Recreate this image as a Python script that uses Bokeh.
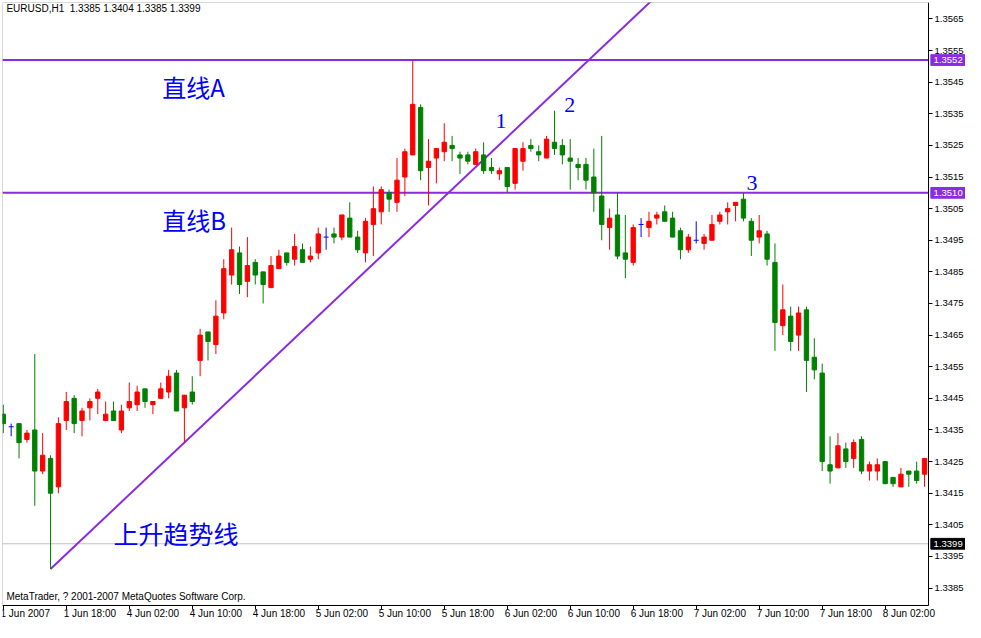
import math
from bokeh.plotting import figure
from bokeh.models import (ColumnDataSource, LinearAxis, FixedTicker, BoxAnnotation,
                          PrintfTickFormatter, Range1d, Grid)
from bokeh.core.properties import value
from bokeh.embed import file_html
from bokeh.resources import INLINE

# ---------------- data (EURUSD H1) ----------------
opens = [1.3440, 1.3436, 1.3437, 1.3432, 1.3435, 1.3422, 1.3426, 1.3417, 1.3438, 1.3445,
         1.3438, 1.3442, 1.3445, 1.3438, 1.3441, 1.3435, 1.3442, 1.3443, 1.3448, 1.3443,
         1.3445, 1.3447, 1.3453, 1.3442, 1.3447, 1.3457, 1.3466, 1.3462, 1.3472, 1.3484,
         1.3491, 1.3482, 1.3488, 1.3485, 1.3480, 1.3486, 1.3491, 1.3489, 1.3492, 1.3489,
         1.3491, 1.3496, 1.3497, 1.3496, 1.3502, 1.3496, 1.3491, 1.3500, 1.3504, 1.3510,
         1.3507, 1.3515, 1.3522, 1.3537, 1.3518, 1.3521, 1.3523, 1.3525, 1.3522, 1.3522,
         1.3519, 1.3522, 1.3518, 1.3516, 1.3518, 1.3513, 1.3520, 1.3525, 1.3523, 1.3521,
         1.3526, 1.3525, 1.3521, 1.3519, 1.3519, 1.3515, 1.3509, 1.3499, 1.3503, 1.3491,
         1.3488, 1.3500, 1.3499, 1.3502, 1.3504, 1.3502, 1.3498, 1.3492, 1.3495, 1.3494,
         1.3495, 1.3501, 1.3504, 1.3506, 1.3508, 1.3501, 1.3496, 1.3497, 1.3488, 1.3468,
         1.3471, 1.3465, 1.3473, 1.3458, 1.3453, 1.3424, 1.3423, 1.3429, 1.3426, 1.3432,
         1.3422, 1.3422, 1.3425, 1.3420, 1.3417, 1.3422, 1.3422, 1.3421]
highs = [1.3443, 1.3437, 1.3437, 1.3435, 1.3459, 1.3434, 1.3427, 1.3439, 1.3447, 1.3446,
         1.3442, 1.3445, 1.3448, 1.3444, 1.3444, 1.3443, 1.3450, 1.3449, 1.3448, 1.3444,
         1.3450, 1.3454, 1.3454, 1.3446, 1.3452, 1.3467, 1.3466, 1.3476, 1.3489, 1.3499,
         1.3493, 1.3496, 1.3489, 1.3485, 1.3490, 1.3492, 1.3491, 1.3497, 1.3494, 1.3493,
         1.3499, 1.3499, 1.3499, 1.3503, 1.3507, 1.3498, 1.3502, 1.3512, 1.3512, 1.3511,
         1.3521, 1.3524, 1.3552, 1.3538, 1.3527, 1.3524, 1.3532, 1.3528, 1.3523, 1.3523,
         1.3524, 1.3526, 1.3521, 1.3518, 1.3518, 1.3524, 1.3526, 1.3527, 1.3525, 1.3528,
         1.3536, 1.3527, 1.3527, 1.3521, 1.3521, 1.3524, 1.3528, 1.3505, 1.3510, 1.3503,
         1.3500, 1.3502, 1.3504, 1.3504, 1.3506, 1.3504, 1.3499, 1.3497, 1.3501, 1.3497,
         1.3503, 1.3504, 1.3507, 1.3507, 1.3510, 1.3502, 1.3503, 1.3498, 1.3494, 1.3481,
         1.3474, 1.3474, 1.3474, 1.3464, 1.3456, 1.3433, 1.3434, 1.3431, 1.3432, 1.3433,
         1.3425, 1.3426, 1.3425, 1.3420, 1.3423, 1.3422, 1.3425, 1.3426]
lows = [1.3434, 1.3433, 1.3426, 1.3431, 1.3411, 1.3421, 1.3391, 1.3415, 1.3435, 1.3434,
        1.3433, 1.3438, 1.3440, 1.3438, 1.3438, 1.3434, 1.3441, 1.3441, 1.3442, 1.3440,
        1.3445, 1.3445, 1.3441, 1.3431, 1.3443, 1.3452, 1.3457, 1.3459, 1.3470, 1.3481,
        1.3478, 1.3477, 1.3481, 1.3475, 1.3480, 1.3486, 1.3487, 1.3487, 1.3488, 1.3488,
        1.3489, 1.3492, 1.3494, 1.3495, 1.3496, 1.3491, 1.3488, 1.3490, 1.3500, 1.3504,
        1.3504, 1.3509, 1.3522, 1.3514, 1.3506, 1.3513, 1.3520, 1.3520, 1.3516, 1.3519,
        1.3519, 1.3516, 1.3516, 1.3514, 1.3510, 1.3511, 1.3517, 1.3523, 1.3520, 1.3521,
        1.3522, 1.3519, 1.3511, 1.3514, 1.3511, 1.3504, 1.3495, 1.3492, 1.3489, 1.3483,
        1.3487, 1.3496, 1.3496, 1.3500, 1.3501, 1.3496, 1.3489, 1.3491, 1.3494, 1.3492,
        1.3495, 1.3500, 1.3500, 1.3501, 1.3501, 1.3490, 1.3494, 1.3487, 1.3460, 1.3465,
        1.3460, 1.3460, 1.3447, 1.3451, 1.3422, 1.3418, 1.3423, 1.3423, 1.3423, 1.3421,
        1.3419, 1.3419, 1.3418, 1.3417, 1.3417, 1.3417, 1.3418, 1.3417]
closes = [1.3437, 1.3436, 1.3431, 1.3434, 1.3422, 1.3427, 1.3415, 1.3437, 1.3444, 1.3437,
          1.3441, 1.3444, 1.3447, 1.3440, 1.3438, 1.3441, 1.3444, 1.3447, 1.3444, 1.3444,
          1.3448, 1.3452, 1.3441, 1.3446, 1.3444, 1.3465, 1.3463, 1.3471, 1.3486, 1.3492,
          1.3481, 1.3487, 1.3484, 1.3481, 1.3487, 1.3490, 1.3488, 1.3493, 1.3488, 1.3490,
          1.3497, 1.3496, 1.3496, 1.3503, 1.3496, 1.3492, 1.3501, 1.3505, 1.3511, 1.3508,
          1.3514, 1.3523, 1.3538, 1.3517, 1.3520, 1.3524, 1.3526, 1.3524, 1.3521, 1.3520,
          1.3523, 1.3517, 1.3517, 1.3517, 1.3512, 1.3524, 1.3524, 1.3524, 1.3522, 1.3527,
          1.3524, 1.3522, 1.3520, 1.3518, 1.3514, 1.3510, 1.3500, 1.3502, 1.3490, 1.3489,
          1.3499, 1.3500, 1.3501, 1.3503, 1.3501, 1.3496, 1.3492, 1.3496, 1.3495, 1.3496,
          1.3500, 1.3503, 1.3505, 1.3507, 1.3502, 1.3495, 1.3498, 1.3489, 1.3469, 1.3473,
          1.3463, 1.3472, 1.3457, 1.3454, 1.3425, 1.3422, 1.3430, 1.3425, 1.3431, 1.3422,
          1.3424, 1.3424, 1.3418, 1.3418, 1.3421, 1.3421, 1.3419, 1.3426]

tick_bars = [0, 8, 16, 24, 32, 40, 48, 56, 64, 72, 80, 88, 96, 104, 112]
tick_labels = ["1 Jun 2007", "1 Jun 18:00", "4 Jun 02:00", "4 Jun 10:00", "4 Jun 18:00",
               "5 Jun 02:00", "5 Jun 10:00", "5 Jun 18:00", "6 Jun 02:00", "6 Jun 10:00",
               "6 Jun 18:00", "7 Jun 02:00", "7 Jun 10:00", "7 Jun 18:00", "8 Jun 02:00"]
price_ticks = [round(1.3385 + 0.001 * k, 4) for k in range(19)]

level_a = 1.3552
level_b = 1.3510
bid_price = 1.3399
trend_x = [6, 82]
trend_y = [1.3391, 1.3570]

header = "EURUSD,H1\u00a0\u00a01.3385 1.3404 1.3385 1.3399"
footer = "MetaTrader, ? 2001-2007 MetaQuotes Software Corp."

note_cn = ["直线A", "直线B", "上升趋势线"]
note_cn_x = [20.2, 20.2, 14.0]
note_cn_y = [1.35437, 1.35017, 1.34025]
note_num = ["1", "2", "3"]
note_num_x = [62.5, 71.25, 94.4]
note_num_y = [1.35326, 1.35378, 1.35130]

# ---------------- colours ----------------
UP = "#FF0000"
DOWN = "#008000"
DOJI = "#0000FF"
LINE = "#8A2BE2"

n = len(opens)
xs = list(range(n))
colors = [UP if c > o else (DOWN if c < o else DOJI) for o, c in zip(opens, closes)]
src = ColumnDataSource(dict(x=xs, low=lows, high=highs, color=colors))
body_idx = [i for i in xs if opens[i] != closes[i]]
body_src = ColumnDataSource(dict(
    x=body_idx,
    top=[max(opens[i], closes[i]) for i in body_idx],
    bottom=[min(opens[i], closes[i]) for i in body_idx],
    color=[colors[i] for i in body_idx]))
doji_idx = [i for i in xs if opens[i] == closes[i]]
doji_src = ColumnDataSource(dict(
    x0=[i - 0.32 for i in doji_idx], x1=[i + 0.32 for i in doji_idx],
    y=[opens[i] for i in doji_idx]))

# chart area (bars) and full frame (incl. price scale and time labels)
x_start, x_chart_end, x_frame_end = -0.1, 117.5, 122.2
y_chart_bottom, y_top, y_frame_bottom = 1.33795, 1.35702, 1.33741

p = figure(width=965, height=622,
           x_range=Range1d(x_start, x_frame_end), y_range=Range1d(y_frame_bottom, y_top),
           x_axis_location=None, y_axis_location=None,
           toolbar_location=None, output_backend="svg",
           min_border_left=2, min_border_top=2, min_border_right=0, min_border_bottom=0,
           outline_line_color=None,
           background_fill_color="white", border_fill_color="white")
for r in list(p.center):
    if isinstance(r, Grid):
        r.visible = False

# chart box
p.add_layout(BoxAnnotation(left=x_start, right=x_chart_end, bottom=y_chart_bottom, top=y_top,
                           fill_alpha=0, line_color="black", line_width=1))

# price axis (right side of the chart box)
yax = LinearAxis(ticker=FixedTicker(ticks=price_ticks), fixed_location=x_chart_end,
                 bounds=(y_chart_bottom, y_top),
                 formatter=PrintfTickFormatter(format="%.4f"),
                 axis_line_color="black", major_tick_line_color="black",
                 major_tick_out=4, major_tick_in=0, minor_tick_line_color=None,
                 major_label_standoff=2, major_label_text_font="Liberation Sans",
                 major_label_text_font_size="9.5px", major_label_text_color="black")
p.add_layout(yax, "right")

# time axis: tick marks
xax1 = LinearAxis(ticker=FixedTicker(ticks=tick_bars), fixed_location=y_chart_bottom,
                  bounds=(x_start, x_chart_end),
                  major_label_overrides={t: "" for t in tick_bars},
                  axis_line_color="black", major_tick_line_color="black",
                  major_tick_out=4, major_tick_in=0, minor_tick_line_color=None,
                  major_label_standoff=0, major_label_text_font_size="1px")
p.add_layout(xax1, "below")
# time axis: labels, left-aligned after each tick
label_pos = [t + (2.75 if k == 0 else 3.0) for k, t in enumerate(tick_bars)]
xax2 = LinearAxis(ticker=FixedTicker(ticks=label_pos), fixed_location=y_chart_bottom,
                  major_label_overrides=dict(zip(label_pos, tick_labels)),
                  axis_line_color=None, major_tick_line_color=None,
                  major_tick_out=0, major_tick_in=0, minor_tick_line_color=None,
                  major_label_standoff=3, major_label_text_font="Liberation Sans",
                  major_label_text_font_size="10px", major_label_text_color="black")
p.add_layout(xax2, "below")

# horizontal lines across the chart area
p.segment(x0=[x_start], x1=[x_chart_end], y0=[bid_price], y1=[bid_price],
          line_color="#C0C0C0", line_width=1)
p.segment(x0=[x_start, x_start], x1=[x_chart_end, x_chart_end], y0=[level_a, level_b],
          y1=[level_a, level_b], line_color=LINE, line_width=2)

# trend line (ray)
slope = (trend_y[1] - trend_y[0]) / (trend_x[1] - trend_x[0])
ray_end = 110
p.line(x=[trend_x[0], ray_end], y=[trend_y[0], trend_y[0] + slope * (ray_end - trend_x[0])],
       line_color=LINE, line_width=2)

# candles
p.segment(x0="x", y0="low", x1="x", y1="high", line_color="color", line_width=1, source=src)
p.vbar(x="x", width=0.55, top="top", bottom="bottom", fill_color="color",
       line_color="color", line_width=1, source=body_src)
p.segment(x0="x0", y0="y", x1="x1", y1="y", line_color=DOJI, line_width=1, source=doji_src)

# annotations
p.text(x=note_cn_x[:2], y=note_cn_y[:2], text=note_cn[:2], text_font=value("Noto Sans CJK SC"),
       text_font_size="24px", text_color="#0000FF", text_baseline="middle", text_align="left")
p.text(x=note_cn_x[2:], y=note_cn_y[2:], text=note_cn[2:], text_font=value("Noto Sans CJK SC"),
       text_font_size="25px", text_color="#0000FF", text_baseline="middle", text_align="left")
p.text(x=note_num_x, y=note_num_y, text=note_num, text_font=value("Liberation Serif"),
       text_font_size="22px", text_color="#0000FF", text_baseline="middle", text_align="left")
p.text(x=[0.4], y=[1.35682], text=[header], text_font=value("Liberation Sans"),
       text_font_size="10px", text_color="black", text_baseline="middle", text_align="left")
p.text(x=[0.4], y=[1.33822], text=[footer], text_font=value("Liberation Sans"),
       text_font_size="10px", text_color="black", text_baseline="middle", text_align="left")

# price tags on the scale
tag_prices = [level_a, level_b, bid_price]
tag_colors = [LINE, LINE, "black"]
tag_left = x_chart_end + 0.3
p.quad(left=[tag_left] * 3, right=[tag_left + 4.4] * 3,
       top=[v + 0.00017 for v in tag_prices], bottom=[v - 0.00017 for v in tag_prices],
       fill_color=tag_colors, line_color=tag_colors)
p.text(x=[tag_left + 0.35] * 3, y=tag_prices, text=["%.4f" % v for v in tag_prices],
       text_font=value("Liberation Sans"), text_font_size="9.5px", text_color="white",
       text_baseline="middle", text_align="left")

open("out.html", "w").write(file_html(p, INLINE))
